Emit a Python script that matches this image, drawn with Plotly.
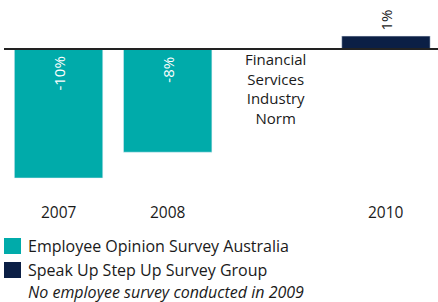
import plotly.graph_objects as go

years = ["2007", "2008", "2009", "2010"]
eos_values = [-10, -8, None, None]
suss_values = [None, None, None, 1]
series_names = ["Employee Opinion Survey Australia", "Speak Up Step Up Survey Group"]
colors = ["#00ABAA", "#0B1F45"]
norm_lines = ["Financial", "Services", "Industry", "Norm"]
footnote = "No employee survey conducted in 2009"

FONT = "Open Sans"
TXT = "#1a1a1a"
xpos = list(range(len(years)))
PX_PER_UNIT = 12.9
ZERO_PX = 49

def val(py):
    return -(py - ZERO_PX) / PX_PER_UNIT

# paper coords: plot area spans y 20..200 px, x 4..438 px
def py2paper(py):
    return (200 - py) / 180

def px2paper(px):
    return (px - 4) / 434

fig = go.Figure()
fig.add_trace(go.Bar(x=xpos, y=eos_values, marker_color=colors[0], width=0.81,
                     name=series_names[0], showlegend=False, hoverinfo="skip"))
fig.add_trace(go.Bar(x=xpos, y=suss_values, marker_color=colors[1], width=0.81,
                     name=series_names[1], showlegend=False, hoverinfo="skip"))

ann = []
for x, v in zip(xpos, eos_values):
    if v is not None:
        ann.append(dict(x=x, y=0, xref="x", yref="y", text=f"{v}%", textangle=-90,
                        showarrow=False, yanchor="top", yshift=-6,
                        font=dict(family=FONT, size=15, color="white")))
for x, v in zip(xpos, suss_values):
    if v is not None:
        ann.append(dict(x=x, y=v, xref="x", yref="y", text=f"{v}%", textangle=-90,
                        showarrow=False, yanchor="bottom", yshift=4,
                        font=dict(family=FONT, size=15, color=TXT)))
# year labels (skip 2009)
for x, yr in zip(xpos, years):
    if yr != "2009":
        ann.append(dict(x=x, y=py2paper(212), xref="x", yref="paper", text=yr, showarrow=False,
                        yanchor="middle", font=dict(family=FONT, size=15.5, color=TXT)))
ann.append(dict(x=1.985, y=val(88), xref="x", yref="y", text="<br>".join(norm_lines),
                showarrow=False, yanchor="middle",
                font=dict(family=FONT, size=15, color=TXT)))

shapes = []
leg_rows = [(238, 254, 246), (262, 278, 270)]
for (t, b, c), col, name in zip(leg_rows, colors, series_names):
    shapes.append(dict(type="rect", xref="paper", yref="paper", x0=px2paper(4), x1=px2paper(21),
                       y0=py2paper(b), y1=py2paper(t), fillcolor=col, line=dict(width=0)))
    ann.append(dict(x=px2paper(26), y=py2paper(c), xref="paper", yref="paper", text=name,
                    showarrow=False, xanchor="left", yanchor="middle",
                    font=dict(family=FONT, size=16, color=TXT)))
ann.append(dict(x=px2paper(26), y=py2paper(292), xref="paper", yref="paper",
                text=f"<i>{footnote}</i>", showarrow=False, xanchor="left", yanchor="middle",
                font=dict(family=FONT, size=16, color=TXT)))
# zero line
shapes.append(dict(type="line", xref="paper", yref="y", x0=0, x1=1, y0=0, y1=0,
                   line=dict(color="#222", width=2)))

fig.update_layout(
    width=438, height=302, margin=dict(l=4, r=0, t=20, b=102, autoexpand=False),
    paper_bgcolor="white", plot_bgcolor="white",
    barmode="overlay",
    xaxis=dict(range=[-0.5, 3.477], showgrid=False, zeroline=False, visible=False),
    yaxis=dict(range=[val(200), val(20)], showgrid=False, zeroline=False, visible=False),
    annotations=ann, shapes=shapes,
)
fig.write_html("out.html", config={"displayModeBar": False},
               post_script="document.body.style.margin='0';")
